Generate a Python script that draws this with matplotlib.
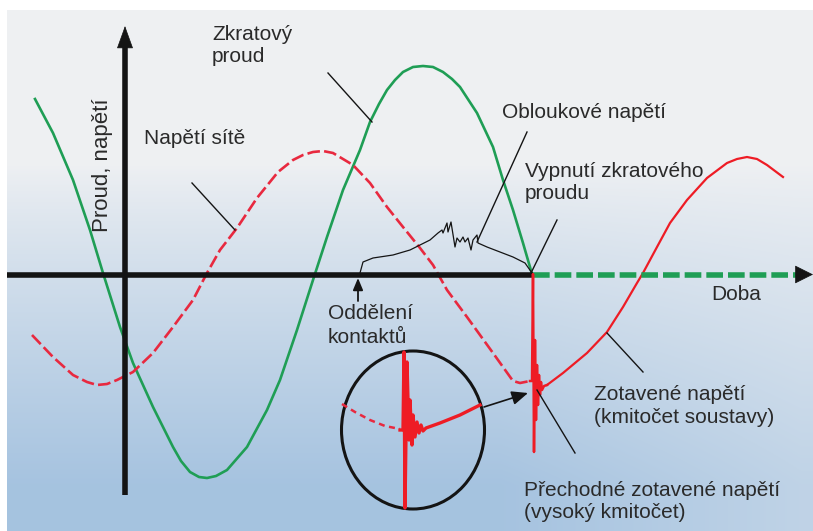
import numpy as np
import matplotlib
matplotlib.use("Agg")
import matplotlib.pyplot as plt
from matplotlib.patches import Ellipse

# ---------------- data (schematic units: time to the right, value downward) -------------
# short-circuit current (green)
green_t = [35, 53, 73, 90, 103, 120, 133, 153, 173, 181, 190, 199, 207, 216, 227, 247, 267, 280,
           297, 313, 327, 343, 360, 370, 379, 387, 395, 403, 413, 423, 433, 443, 452, 460, 477, 493, 503, 513, 523, 532]
green_v = [99, 133, 180, 230, 273, 327, 363, 407, 447, 461, 472, 477, 478, 476, 470, 447, 410, 380,
           330, 280, 237, 190, 150, 122, 104, 90, 80, 72, 67, 66, 67, 72, 79, 87, 113, 147, 180, 210, 243, 274]

# network voltage (red dashed)
net_t = [32, 53, 73, 87, 97, 107, 117, 133, 153, 173, 193, 207, 220, 237, 257, 278, 293, 303, 313,
         323, 333, 353, 370, 387, 403, 420, 433, 447, 467, 493, 513, 520, 530]
net_v = [335, 357, 375, 382, 385, 384, 380, 372, 353, 327, 300, 273, 250, 228, 198, 172, 160, 155, 152,
         151, 153, 165, 183, 207, 227, 248, 265, 290, 317, 353, 381, 383, 381]

# transient recovery voltage spike (red, at current zero)
trv_t = [530, 532, 533, 534, 535, 536, 537, 538, 539, 540, 541, 542, 544, 547]
trv_v = [381, 381, 274, 452, 340, 420, 365, 405, 375, 395, 382, 390, 386, 385]

# recovery voltage (red solid)
rec_t = [547, 563, 587, 607, 623, 637, 643, 657, 670, 687, 707, 727, 737, 747, 757, 767, 783]
rec_v = [385, 373, 353, 332, 307, 283, 273, 247, 223, 200, 178, 163, 159, 157, 159, 165, 177]

# arc voltage (black, jagged)
arc_t = [360, 363, 373, 393, 410, 420, 430, 438, 442, 443, 447, 448, 451, 455, 457, 460, 463, 465,
         468, 471, 473, 477, 478, 487, 500, 513, 525, 532]
arc_v = [273, 262, 258, 255, 250, 245, 240, 233, 230, 233, 223, 232, 222, 247, 238, 242, 237, 242,
         238, 250, 240, 235, 243, 247, 252, 257, 263, 273]

# magnified inset (circle)
inset_dash_t = [342, 355, 370, 385, 400]
inset_dash_v = [404, 412, 420, 426, 429]
inset_sol_t = [400, 403, 404, 405, 407, 409, 410, 412, 413, 415, 417, 419, 421, 423, 426, 440, 460, 480]
inset_sol_v = [430, 430, 352, 508, 362, 440, 400, 445, 415, 437, 422, 433, 425, 431, 428, 423, 415, 405]

labels = {
    "zkrat": ["Zkratový", "proud"],
    "osa_y": "Proud, napětí",
    "sit": "Napětí sítě",
    "oblouk": "Obloukové napětí",
    "vypnuti": ["Vypnutí zkratového", "proudu"],
    "doba": "Doba",
    "oddeleni": ["Oddělení", "kontaktů"],
    "zotavene": ["Zotavené napětí", "(kmitočet soustavy)"],
    "prechodne": ["Přechodné zotavené napětí", "(vysoký kmitočet)"],
}

# ---------------- figure ----------------
W, H = 813, 531
fig = plt.figure(figsize=(W / 100, H / 100), dpi=100)
ax = fig.add_axes([0, 0, 1, 1])
ax.set_xlim(0, W)
ax.set_ylim(H, 0)
ax.axis("off")
fig.patch.set_facecolor("white")

# background gradient
yy, xx = np.mgrid[10:H, 7:W]
b = np.clip((yy - 165) / 320.0, 0, 1) ** 0.85
h = 1 - 0.35 * np.clip((xx - 500) / 300.0, 0, 1)
bb = (b * h)[..., None]
c0 = np.array([0.935, 0.942, 0.952])
c1 = np.array([0.65, 0.765, 0.878])
img = c0 * (1 - bb) + c1 * bb
ax.imshow(img, extent=(7, W, H, 10), aspect="auto", zorder=0, interpolation="bilinear")

GREEN = "#1f9e55"
RED = "#ee1c25"
REDD = "#e8293f"
BLACK = "#141414"
TXT = "#2a2a2a"

# curves
ax.plot(green_t, green_v, color=GREEN, lw=1.9, zorder=2, solid_joinstyle="round")
ax.plot(net_t, net_v, color=REDD, lw=1.9, zorder=2, linestyle=(0, (4.8, 1.6)),
        dash_joinstyle="round")
ax.plot(rec_t, rec_v, color=RED, lw=1.6, zorder=2, solid_joinstyle="round")
ax.plot(trv_t, trv_v, color=RED, lw=1.8, zorder=4)
ax.plot(arc_t, arc_v, color=BLACK, lw=0.9, zorder=2)

# axes
ax.plot([125, 125], [495, 45], color=BLACK, lw=4.0, zorder=3, solid_capstyle="butt")
ax.annotate("", xy=(125, 26), xytext=(125, 47),
            arrowprops=dict(arrowstyle="-|>,head_length=0.75,head_width=0.27", mutation_scale=20,
                            lw=0.5, color=BLACK, shrinkA=0, shrinkB=0), zorder=3)
ax.plot([7, 533], [274.5, 274.5], color=BLACK, lw=4.0, zorder=3, solid_capstyle="butt")
ax.plot([533, 798], [274.5, 274.5], color=GREEN, lw=4.0, zorder=3, solid_capstyle="butt",
        linestyle=(0, (3.0, 0.9)))
ax.annotate("", xy=(813, 274.5), xytext=(797, 274.5),
            arrowprops=dict(arrowstyle="-|>,head_length=0.6,head_width=0.3", mutation_scale=20,
                            lw=0.5, color=BLACK, shrinkA=0, shrinkB=0), zorder=3)

# leader lines
leaders = [((328, 73), (372, 122)),
           ((192, 183), (235, 230)),
           ((527, 132), (477, 242)),
           ((557, 220), (531, 273)),
           ((607, 333), (643, 372)),
           ((537, 390), (575, 453))]
for (x0, y0), (x1, y1) in leaders:
    ax.plot([x0, x1], [y0, y1], color=BLACK, lw=1.0, zorder=5)

# contact separation arrow
ax.annotate("", xy=(358, 278), xytext=(358, 301),
            arrowprops=dict(arrowstyle="-|>,head_length=0.6,head_width=0.25", mutation_scale=12,
                            lw=1.3, color=BLACK, shrinkA=0, shrinkB=0), zorder=5)

# inset circle
ax.add_patch(Ellipse((413, 430), 143, 158, fill=False, lw=2.2, ec=BLACK, zorder=4))
ax.plot(inset_dash_t, inset_dash_v, color=REDD, lw=1.8, zorder=4, linestyle=(0, (2.4, 1.8)))
ax.plot(inset_sol_t, inset_sol_v, color=RED, lw=2.4, zorder=4)
ax.annotate("", xy=(528, 393), xytext=(484, 407),
            arrowprops=dict(arrowstyle="-|>,head_length=0.7,head_width=0.3", mutation_scale=14,
                            lw=1.2, color=BLACK, shrinkA=0, shrinkB=0), zorder=5)

# text
FS = 15
kw = dict(fontsize=FS, color=TXT, family=["Liberation Sans", "DejaVu Sans"], zorder=6,
          va="baseline", ha="left")
ax.text(212, 40, labels["zkrat"][0], **kw)
ax.text(212, 62, labels["zkrat"][1], **kw)
ax.text(144, 144, labels["sit"], **kw)
ax.text(502, 118, labels["oblouk"], **kw)
ax.text(525, 177, labels["vypnuti"][0], **kw)
ax.text(525, 199, labels["vypnuti"][1], **kw)
ax.text(711, 300, labels["doba"], **kw)
ax.text(328, 319, labels["oddeleni"][0], **kw)
ax.text(328, 343, labels["oddeleni"][1], **kw)
ax.text(594, 400, labels["zotavene"][0], **kw)
ax.text(594, 423, labels["zotavene"][1], **kw)
ax.text(524, 496, labels["prechodne"][0], **kw)
ax.text(524, 518, labels["prechodne"][1], **kw)
ax.text(102, 165, labels["osa_y"], fontsize=16, color=TXT, family=["Liberation Sans", "DejaVu Sans"],
        rotation=90, ha="center", va="center", zorder=6)

fig.savefig("out.png", dpi=100)
